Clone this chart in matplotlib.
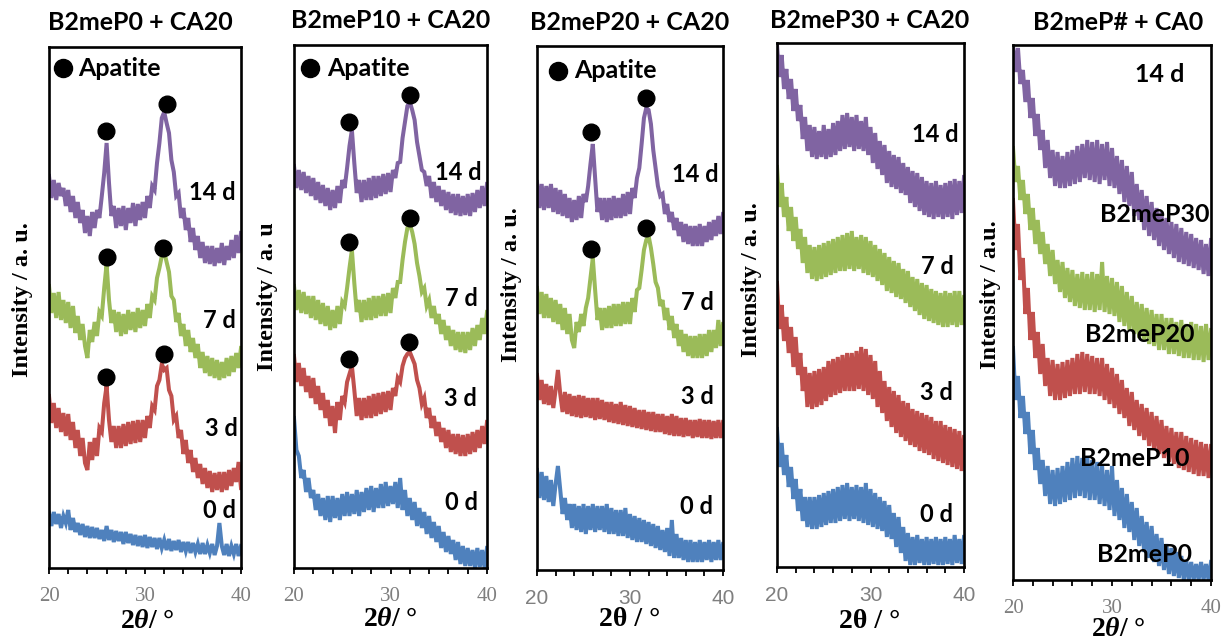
import numpy as np
import matplotlib
matplotlib.use("Agg")
import matplotlib.pyplot as plt

plt.rcParams['mathtext.fontset'] = 'custom'
plt.rcParams['mathtext.rm'] = 'Liberation Serif:bold'
plt.rcParams['mathtext.it'] = 'Liberation Serif:italic:bold'
plt.rcParams['mathtext.bf'] = 'Liberation Serif:bold'

W, H = 1229, 642
DPI = 100

# 2theta grid (deg), 0.25 deg steps
two_theta = np.linspace(20, 40, 81)

# ---- Intensities (a.u.) ----
# Panel 1: B2meP0 + CA20
p1_14d = [392,370,388,368,385,372,380,362,378,356, 372,350,366,345,358,335,352,332,356,340,
          358,350,372,395,425,385,352,362,340,360, 342,362,338,360,345,365,342,364,348,366,
          350,372,360,382,378,405,425,450,456,445, 435,408,396,372,375,350,360,338,350,326,
          340,318,332,310,326,305,322,304,322,302, 320,305,325,303,322,308,328,310,333,315, 335]
p1_7d = [282,255,275,250,276,248,268,245,266,240, 262,235,252,228,244,222,210,238,226,246,
         232,256,252,280,304,268,245,258,236,256, 232,254,234,258,238,256,236,260,240,258,
         242,264,250,272,268,290,300,312,316,306, 296,272,268,246,255,232,244,222,238,216,
         230,210,224,200,216,195,212,192,210,190, 208,188,206,190,210,192,212,196,215,200, 220]
p1_3d = [172,145,165,140,160,136,155,132,154,128, 146,120,138,112,130,105,98,126,108,130,
         112,140,136,165,182,148,126,142,120,142, 120,144,122,146,124,147,125,148,126,148,
         130,152,140,162,158,182,188,204,198,200, 178,172,148,152,130,138,114,128,105,118,
         96,110,90,104,84,100,80,97,76,95, 78,96,76,96,78,98,82,100,86,106, 80]
p1_0d = [55,42,56,44,54,40,52,45,58,38, 50,36,45,33,44,31,42,30,41,30,
         40,29,38,27,42,28,38,26,37,27, 36,24,36,25,34,23,33,22,32,21,
         33,20,31,21,30,19,30,20,28,18, 29,17,27,18,28,16,26,17,26,15,
         25,16,24,14,25,14,23,15,24,13, 22,45,22,13,24,12,22,14,24,12, 22]

# Panel 2: B2meP10 + CA20
p2_14d = [402,380,398,378,396,375,392,372,390,368, 386,365,383,362,380,358,378,360,382,365,
          388,380,400,422,438,405,375,388,366,388, 368,390,368,392,370,392,372,394,374,395,
          376,398,390,405,406,430,446,462,466,458, 448,426,412,398,396,382,392,370,386,366,
          382,362,378,358,376,355,374,353,374,352, 372,353,374,352,375,356,378,360,382,362, 384]
p2_7d = [282,258,278,255,276,254,272,250,272,248, 268,244,265,242,262,238,258,240,262,244,
         266,262,280,300,318,285,256,268,246,268, 248,270,248,272,250,272,252,274,252,275,
         255,280,270,286,286,308,326,340,344,336, 324,305,292,276,280,262,268,250,262,244,
         254,234,248,228,242,222,238,218,236,216, 236,215,236,218,240,222,243,228,250,234, 256]
p2_3d = [212,186,205,182,200,176,192,170,190,164, 182,158,175,150,168,142,162,135,166,148,
         172,166,186,194,202,178,152,170,148,170, 150,172,150,174,152,175,154,176,156,177,
         158,180,172,190,186,202,210,214,216,210, 204,188,180,164,170,150,160,140,152,132,
         146,126,140,120,138,116,134,114,134,112, 133,112,134,114,136,116,138,120,142,124, 146]
p2_0d = [150,118,112,90,98,76,90,70,78,58, 74,52,70,48,72,46,72,50,70,48,
         74,52,76,52,74,54,78,52,76,56, 80,58,82,56,80,60,84,60,86,62,
         82,64,86,60,90,58,78,52,70,48, 66,42,60,40,56,34,52,30,46,26,
         42,20,36,16,32,14,28,8,26,4, 22,2,20,2,18,0,20,1,18,0, 20]

# Panel 3: B2meP20 + CA20
p3_14d = [388,362,386,360,384,362,386,358,382,356, 380,354,376,352,372,348,370,350,374,352,
          376,368,384,406,426,392,358,372,350,372, 348,372,350,374,352,372,352,376,354,378,
          356,382,372,392,402,426,452,462,460,446, 420,402,384,374,376,356,366,348,358,340,
          352,334,348,328,346,326,344,324,344,324, 346,324,344,328,348,330,350,334,354,336, 356]
p3_7d = [282,256,278,252,276,252,272,248,270,246, 266,240,262,236,256,230,222,248,238,256,
         244,262,272,292,312,280,250,262,240,262, 242,264,242,266,244,266,244,268,246,268,
         246,272,258,280,282,300,320,330,334,322, 306,288,282,264,270,250,262,240,254,232,
         246,224,240,218,236,214,234,212,234,212, 236,212,236,214,240,218,240,222,250,224, 246]
p3_3d = [195,170,190,166,186,165,184,162,180,200, 176,158,178,156,176,154,174,153,175,152,
         174,153,172,152,172,150,172,151,170,150, 168,148,168,147,166,146,168,145,165,144,
         164,143,162,142,160,141,160,140,158,139, 158,138,156,138,156,136,154,135,156,134,
         154,134,152,133,152,134,150,132,150,133, 151,132,150,132,150,131,149,132,150,132, 148]
p3_0d = [100,72,98,70,94,68,90,64,86,104, 80,56,72,50,66,42,66,40,64,38,
         66,36,64,40,66,38,64,40,64,38, 66,36,62,36,60,34,60,34,62,32,
         56,30,54,28,52,28,50,26,48,24, 46,22,44,20,40,18,42,14,50,12,
         36,12,32,10,30,8,30,8,28,8, 30,8,28,10,30,8,28,10,30,10, 26]

# Panel 4: B2meP30 + CA20
p4_14d = [522,490,512,478,498,468,488,456,478,446, 462,428,450,416,442,410,440,408,436,410,
          442,408,438,410,444,412,446,416,452,418, 454,420,450,416,452,418,446,416,450,412,
          440,404,434,398,426,392,422,384,416,380, 412,378,410,374,404,372,400,364,396,360,
          394,356,390,352,386,350,384,348,386,350, 382,348,384,350,386,348,388,352,386,354, 390]
p4_7d = [400,360,384,350,370,336,360,326,350,318, 338,304,330,294,322,288,320,286,322,288,
         324,290,326,292,328,294,330,296,332,296, 334,298,336,296,330,298,332,294,330,292,
         326,290,322,286,318,282,314,276,310,274, 306,270,304,268,298,264,296,260,290,256,
         288,252,284,248,282,246,278,244,276,242, 274,240,276,240,274,242,276,240,276,242, 270]
p4_3d = [284,238,262,226,250,214,240,200,230,192, 214,176,200,160,194,158,196,160,198,162,
         200,166,206,170,208,172,210,174,212,176, 214,176,214,176,216,178,220,176,218,172,
         212,168,206,160,196,154,186,146,180,140, 176,134,172,130,166,126,164,122,158,120,
         156,116,154,114,152,112,150,108,146,106, 146,104,142,102,140,100,138,98,136,96, 130]
p4_0d = [138,100,124,92,112,80,100,68,88,56, 78,46,70,40,70,38,70,38,72,40,
         74,42,76,44,78,44,80,46,82,48, 84,46,80,48,82,46,80,44,84,42,
         78,40,74,38,70,36,66,30,62,28, 54,20,50,14,40,6,34,2,30,2,
         32,4,28,2,30,2,28,3,30,2, 28,2,30,3,28,2,32,4,28,3, 30]

# Panel 5: B2meP# + CA0 (14 d)
p5_p30 = [535,508,532,496,510,478,500,462,482,444, 466,430,450,412,440,402,430,394,428,392,
          424,392,428,394,430,396,434,398,436,402, 440,400,438,398,440,396,436,400,438,394,
          432,392,424,386,420,378,414,374,408,364, 396,360,390,350,384,344,378,340,372,334,
          368,330,362,326,358,322,356,318,352,316, 348,314,346,312,342,310,340,306,336,304, 340]
p5_p20 = [432,398,414,380,400,366,386,350,372,336, 360,326,348,316,336,304,330,296,320,288,
          318,282,312,278,310,274,306,272,308,270, 306,270,308,268,306,270,318,268,304,266,
          302,264,298,258,294,254,288,250,284,246, 278,242,276,240,272,236,270,234,266,230,
          266,230,262,226,262,226,258,224,260,222, 256,222,258,220,256,220,254,218,256,220, 250]
p5_p10 = [380,330,356,300,322,266,292,240,268,222, 248,206,236,194,222,184,220,180,216,180,
          218,182,220,184,222,186,226,186,228,188, 226,186,224,186,222,184,222,180,216,176,
          212,172,206,166,200,162,192,154,188,150, 180,144,176,140,172,134,168,130,164,126,
          160,122,154,118,152,116,148,112,148,110, 144,108,142,106,140,104,138,104,136,102, 134]
p5_p0 = [232,180,204,162,184,146,168,126,150,110, 132,96,120,84,114,76,110,74,112,76,
         114,78,118,80,122,82,124,84,122,82, 124,80,120,80,118,76,114,74,110,70,
         114,64,100,60,92,52,86,48,78,40, 72,34,64,28,58,22,54,18,46,14,
         42,10,36,6,32,4,28,2,24,0, 20,0,18,0,16,0,18,0,16,0, 18]

# Apatite peak markers (2theta, intensity) per panel
p1_dots = [(25.9, 437), (32.3, 464), (26.0, 311), (31.9, 320), (25.9, 191), (32.0, 214)]
p2_dots = [(25.7, 446), (32.0, 473), (25.7, 326), (32.0, 350), (25.7, 209), (31.9, 226)]
p3_dots = [(25.8, 438), (31.7, 472), (25.8, 321), (31.7, 342)]

titles = ["B2meP0 + CA20", "B2meP10 + CA20", "B2meP20 + CA20", "B2meP30 + CA20", "B2meP# + CA0"]
series_names = ["14 d", "7 d", "3 d", "0 d"]
p5_names = ["B2meP30", "B2meP20", "B2meP10", "B2meP0"]
tick_values = [20, 30, 40]

COLORS = ["#8064A2", "#9BBB59", "#C0504D", "#4F81BD"]

# ---- layout (pixels) ----
panels = [
    dict(box=(49, 241, 47, 568), data=[p1_14d, p1_7d, p1_3d, p1_0d], labels=series_names,
         lab_pos=[(37.0, 376), (37.8, 248), (38.0, 140), (37.8, 57)], dots=p1_dots,
         legend=(21.5, 500, 23.0), title_xy=(140, 22), xlabel=r"$2\theta$/ °", xlabel_xy=(147, 622),
         ylabel="Intensity / a. u.", ylabel_xy=(23, 300), tickfont="Liberation Serif", labsize=17),
    dict(box=(294, 487, 45, 568), data=[p2_14d, p2_7d, p2_3d, p2_0d], labels=series_names,
         lab_pos=[(37.0, 396), (37.4, 270), (37.2, 169), (37.4, 66)], dots=p2_dots,
         legend=(21.7, 500, 23.4), title_xy=(391, 21), xlabel=r"$2\theta$/ °", xlabel_xy=(390, 620),
         ylabel="Intensity / a. u", ylabel_xy=(268, 297), tickfont="Liberation Serif", labsize=17),
    dict(box=(537, 723, 46, 570), data=[p3_14d, p3_7d, p3_3d, p3_0d], labels=series_names,
         lab_pos=[(37.0, 396), (37.2, 268), (37.2, 174), (37.2, 63)], dots=p3_dots,
         legend=(22.3, 499, 24.0), title_xy=(630, 22), xlabel="2θ / °", xlabel_xy=(630, 620),
         ylabel="Intensity / a. u.", ylabel_xy=(512, 285), tickfont="Liberation Sans", labsize=17),
    dict(box=(777, 964, 43, 567), data=[p4_14d, p4_7d, p4_3d, p4_0d], labels=series_names,
         lab_pos=[(36.9, 433), (37.2, 300), (37.1, 174), (37.1, 52)], dots=[],
         legend=None, title_xy=(870, 20), xlabel="2θ / °", xlabel_xy=(870, 622),
         ylabel="Intensity / a. u.", ylabel_xy=(752, 280), tickfont="Liberation Sans", labsize=17),
    dict(box=(1013, 1211, 45, 580), data=[p5_p30, p5_p20, p5_p10, p5_p0], labels=p5_names,
         lab_pos=[(34.3, 365), (32.8, 245), (32.3, 122), (33.3, 26)], dots=[],
         legend=None, title_xy=(1118, 22), xlabel=r"$2\theta$/ °", xlabel_xy=(1118, 630),
         ylabel="Intensity / a.u.", ylabel_xy=(990, 295), tickfont="Liberation Serif", labsize=18,
         extra=("14 d", 34.8, 505)),
]

fig = plt.figure(figsize=(W / DPI, H / DPI), dpi=DPI)
fig.patch.set_facecolor("white")

SANS = "Lato"
SERIF = "Liberation Serif"


def ftext(x, y, s, **kw):
    fig.text(x / W, 1 - y / H, s, **kw)


for i, p in enumerate(panels):
    l, r, t, b = p["box"]
    ax = fig.add_axes([l / W, 1 - b / H, (r - l) / W, (b - t) / H])
    ax.set_xlim(20, 40)
    ax.set_ylim(0, b - t)
    for yv, c in zip(p["data"], COLORS):
        ax.plot(two_theta, yv, color=c, lw=2.9, solid_joinstyle="miter")
    for (dx, dy) in p["dots"]:
        ax.plot(dx, dy, "o", color="black", ms=12, zorder=5)
    if p["legend"] is not None:
        lx, ly, tx = p["legend"]
        ax.plot(lx, ly, "o", color="black", ms=13, zorder=5)
        ax.text(tx, ly, "Apatite", va="center", ha="left", fontsize=18,
                fontweight="bold", family=SANS)
    for name, (lx, ly) in zip(p["labels"], p["lab_pos"]):
        ax.text(lx, ly, name, ha="center", va="center", fontsize=p["labsize"],
                fontweight="bold", family=SANS, zorder=6)
    if "extra" in p:
        s, ex, ey = p["extra"]
        ax.text(ex, ey, s, ha="center", va="center", fontsize=18,
                fontweight="bold", family=SANS)
    ax.set_yticks([])
    ax.set_xticks(tick_values)
    ax.set_xticks(np.arange(20, 41, 2), minor=True)
    ax.tick_params(which="both", direction="out", length=4.5, width=1.3, colors="black",
                   labelcolor="#7f7f7f", labelsize=15, pad=9)
    for lab in ax.get_xticklabels():
        lab.set_family(p["tickfont"])
    for sp in ax.spines.values():
        sp.set_linewidth(1.9)
        sp.set_color("black")

    ftext(*p["title_xy"], titles[i], ha="center", va="center", fontsize=18,
          fontweight="bold", family=SANS)
    ftext(*p["xlabel_xy"], p["xlabel"], ha="center", va="center", fontsize=20,
          fontweight="bold", family=SERIF)
    ftext(*p["ylabel_xy"], p["ylabel"], ha="center", va="center", fontsize=17.5,
          fontweight="bold", family=SERIF, rotation=90)

fig.savefig("out.png", dpi=DPI)
